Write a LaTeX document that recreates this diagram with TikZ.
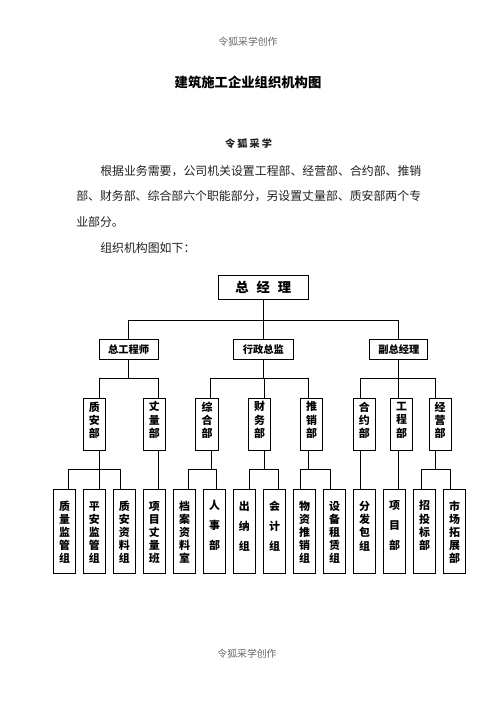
\documentclass[tikz,border=0pt]{standalone}
\usepackage{fontspec}
\newfontfamily\cjk{Noto Sans CJK SC}
\definecolor{hdrgray}{gray}{0.4}
\definecolor{bodyink}{gray}{0.12}
\tikzset{
  obox/.style={draw=black, line width=0.75pt, inner sep=0pt, outer sep=0pt},
  conn/.style={draw=black, line width=0.75pt},
  hdr/.style={font=\cjk\fontsize{7.4pt}{9pt}\selectfont, text=hdrgray, inner sep=0pt},
  para/.style={font=\cjk\fontsize{8.92pt}{11pt}\selectfont, text=bodyink, inner sep=0pt, anchor=west},
  vt/.style={font=\cjk\bfseries\fontsize{8.2pt}{#1}\selectfont, align=center, inner sep=0pt},
  vt/.default=10.1pt,
  ht/.style={font=\cjk\bfseries\fontsize{7.7pt}{9pt}\selectfont},
}
\newcommand\ob[6]{\node[obox, minimum width={(#3-#2)*0.75pt}, minimum height={(#5-#4)*0.75pt}, #6] (#1) at ({(#2+#3)/2},{(#4+#5)/2})}
\begin{document}
\begin{tikzpicture}[x=0.75pt,y=-0.75pt]
\useasboundingbox (0,0) rectangle (496,702);
% header / title / paragraph
\node[hdr] (hd) at (248,41.7) {令狐采学创作};
\node[font=\cjk\bfseries\fontsize{10pt}{12pt}\selectfont, inner sep=0pt] (title) at (248,82) {建筑施工企业组织机构图};
\node[font=\cjk\bfseries\fontsize{7.6pt}{9pt}\selectfont, inner sep=0pt, text=bodyink] (auth) at (248.5,144) {令\hspace{1.6pt}狐\hspace{1.6pt}采\hspace{1.6pt}学};
\node[para] (p1) at (100,170.7) {根据业务需要，公司机关设置工程部、经营部、合约部、推销};
\node[para] (p2) at (76,196) {部、财务部、综合部六个职能部分，另设置丈量部、质安部两个专};
\node[para] (p3) at (76,221.7) {业部分。};
\node[para] (p4) at (100,248.3) {组织机构图如下：};
\node[hdr] (ft) at (247,653.3) {令狐采学创作};
% level 1
\ob{gm}{218.3}{308.3}{275}{299.3}{font=\cjk\bfseries\fontsize{10pt}{12pt}\selectfont}{总\hspace{6pt}经\hspace{6pt}理};
% level 2
\ob{zgcs}{99}{158.3}{339.3}{359.3}{ht}{总工程师};
\ob{xzzj}{233.3}{293.3}{339.3}{359.3}{ht}{行政总监};
\ob{fzjl}{369.8}{427.8}{339.3}{359.3}{ht}{副总经理};
% level 3
\ob{zab}{83.3}{105.3}{398.3}{450.3}{}{};
\ob{zlb}{143.3}{165.3}{398.3}{450.3}{}{};
\ob{zhb}{195.7}{218.3}{398.3}{450.3}{}{};
\ob{cwb}{248.3}{270.7}{398.3}{450.3}{}{};
\ob{txb}{300.7}{322.7}{398.3}{450.3}{}{};
\ob{hyb}{353.3}{375.3}{398.3}{450.3}{}{};
\ob{gcb}{390.7}{412.7}{398.3}{450.3}{}{};
\ob{jyb}{429}{451}{398.3}{450.3}{}{};
\node[vt] (t-zab) at (zab.center |- 0,420.3) {质\\安\\部};
\node[vt] (t-zlb) at (zlb.center |- 0,420.3) {丈\\量\\部};
\node[vt] (t-zhb) at (zhb.center |- 0,420.3) {综\\合\\部};
\node[vt] (t-cwb) at (cwb.center |- 0,420.3) {财\\务\\部};
\node[vt] (t-txb) at (txb.center |- 0,420.3) {推\\销\\部};
\node[vt] (t-hyb) at (hyb.center |- 0,420.3) {合\\约\\部};
\node[vt] (t-gcb) at (gcb.center |- 0,420.3) {工\\程\\部};
\node[vt] (t-jyb) at (jyb.center |- 0,420.3) {经\\营\\部};
% level 4
\ob{zljgz}{53.3}{75.7}{489}{573.3}{}{};
\ob{pajgz}{83.3}{105.3}{489}{573.3}{}{};
\ob{zazlz}{113.3}{135.3}{489}{573.3}{}{};
\ob{xmzlb}{143.3}{165.3}{489}{573.3}{}{};
\ob{dazls}{173.3}{195.7}{489}{573.3}{}{};
\ob{rsb}{203.3}{225.7}{489}{573.3}{}{};
\ob{cnz}{233.3}{255.5}{489}{573.3}{}{};
\ob{kjz}{263.3}{285.7}{489}{573.3}{}{};
\ob{wztxz}{293.3}{315.7}{489}{573.3}{}{};
\ob{sbzlz}{323.3}{345.7}{489}{573.3}{}{};
\ob{ffbz}{353.3}{375.7}{489}{573.3}{}{};
\ob{xmb}{383.3}{405.7}{489}{573.3}{}{};
\ob{ztbb}{413.3}{435.7}{489}{573.3}{}{};
\ob{scztb}{443.3}{465.7}{489}{573.3}{}{};
\node[vt=9.75pt] (t-zljgz) at (zljgz.center |- 0,532.2) {质\\量\\监\\管\\组};
\node[vt=9.75pt] (t-pajgz) at (pajgz.center |- 0,532.2) {平\\安\\监\\管\\组};
\node[vt=9.75pt] (t-zazlz) at (zazlz.center |- 0,532.2) {质\\安\\资\\料\\组};
\node[vt=9.75pt] (t-xmzlb) at (xmzlb.center |- 0,532.2) {项\\目\\丈\\量\\班};
\node[vt=9.75pt] (t-dazls) at (dazls.center |- 0,532.2) {档\\案\\资\\料\\室};
\node[vt=15pt] (t-rsb) at (rsb.center |- 0,525.8) {人\\事\\部};
\node[vt=15pt] (t-cnz) at (cnz.center |- 0,525.8) {出\\纳\\组};
\node[vt=15pt] (t-kjz) at (kjz.center |- 0,525.8) {会\\计\\组};
\node[vt=9.75pt] (t-wztxz) at (wztxz.center |- 0,532.2) {物\\资\\推\\销\\组};
\node[vt=9.75pt] (t-sbzlz) at (sbzlz.center |- 0,532.2) {设\\备\\租\\赁\\组};
\node[vt=10pt] (t-ffbz) at (ffbz.center |- 0,525.8) {分\\发\\包\\组};
\node[vt=15pt] (t-xmb) at (xmb.center |- 0,525.8) {项\\目\\部};
\node[vt=10pt] (t-ztbb) at (ztbb.center |- 0,525.8) {招\\投\\标\\部};
\node[vt=9.75pt] (t-scztb) at (scztb.center |- 0,532.2) {市\\场\\拓\\展\\部};
% junction coordinates
\coordinate (j1) at (263.3,320.7);
\coordinate (a1) at (99.3,378.3);   \coordinate (a2) at (158.5,378.3);
\coordinate (b1) at (210.7,378.3);  \coordinate (b2) at (264,378.3);  \coordinate (b3) at (308.3,378.3);
\coordinate (c1) at (360.7,378.3);  \coordinate (c2) at (398.3,378.3); \coordinate (c3) at (435.7,378.3);
\coordinate (d1) at (68.3,469.3);   \coordinate (d2) at (99.3,469.3);  \coordinate (d3) at (120.3,469.3);
\coordinate (e1) at (188.3,469.3);  \coordinate (e2) at (211,469.3);   \coordinate (e3) at (216.7,469.3);
\coordinate (f1) at (249,469.3);    \coordinate (f2) at (264,469.3);   \coordinate (f3) at (278.3,469.3);
\coordinate (g1) at (300.7,469.3);  \coordinate (g2) at (308.3,469.3); \coordinate (g3) at (330,469.3);
\coordinate (h1) at (421,469.3);    \coordinate (h2) at (435.7,469.3); \coordinate (h3) at (450,469.3);
% connectors level 1-2
\draw[conn] (gm.south) -- (j1);
\draw[conn] (zgcs.north) |- (j1) -| (fzjl.north);
\draw[conn] (xzzj.north) -- (j1);
% level 2-3
\draw[conn] (zgcs.south) -- (zgcs.south |- a1);
\draw[conn] (zab.north -| a1) -- (a1) -- (a2) -- (zlb.north -| a2);
\draw[conn] (xzzj.south) -- (xzzj.south |- b2);
\draw[conn] (zhb.north -| b1) -- (b1) -- (b3) -- (txb.north -| b3);
\draw[conn] (b2) -- (cwb.north -| b2);
\draw[conn] (fzjl.south -| c2) -- (c2);
\draw[conn] (hyb.north -| c1) -- (c1) -- (c3) -- (jyb.north -| c3);
\draw[conn] (c2) -- (gcb.north -| c2);
% level 3-4
\draw[conn] (zab.south -| d2) -- (pajgz.north -| d2);
\draw[conn] (zljgz.north -| d1) -- (d1) -- (d3) -- (zazlz.north -| d3);
\draw[conn] (zlb.south -| a2) -- (xmzlb.north -| a2);
\draw[conn] (zhb.south -| e2) -- (e2);
\draw[conn] (dazls.north -| e1) -- (e1) -- (e3) -- (rsb.north -| e3);
\draw[conn] (cwb.south -| f2) -- (f2);
\draw[conn] (cnz.north -| f1) -- (f1) -- (f3) -- (kjz.north -| f3);
\draw[conn] (txb.south -| g2) -- (g2);
\draw[conn] (wztxz.north -| g1) -- (g1) -- (g3) -- (sbzlz.north -| g3);
\draw[conn] (hyb.south -| c1) -- (ffbz.north -| c1);
\draw[conn] (gcb.south -| c2) -- (xmb.north -| c2);
\draw[conn] (jyb.south -| h2) -- (h2);
\draw[conn] (ztbb.north -| h1) -- (h1) -- (h3) -- (scztb.north -| h3);
\end{tikzpicture}
\end{document}
